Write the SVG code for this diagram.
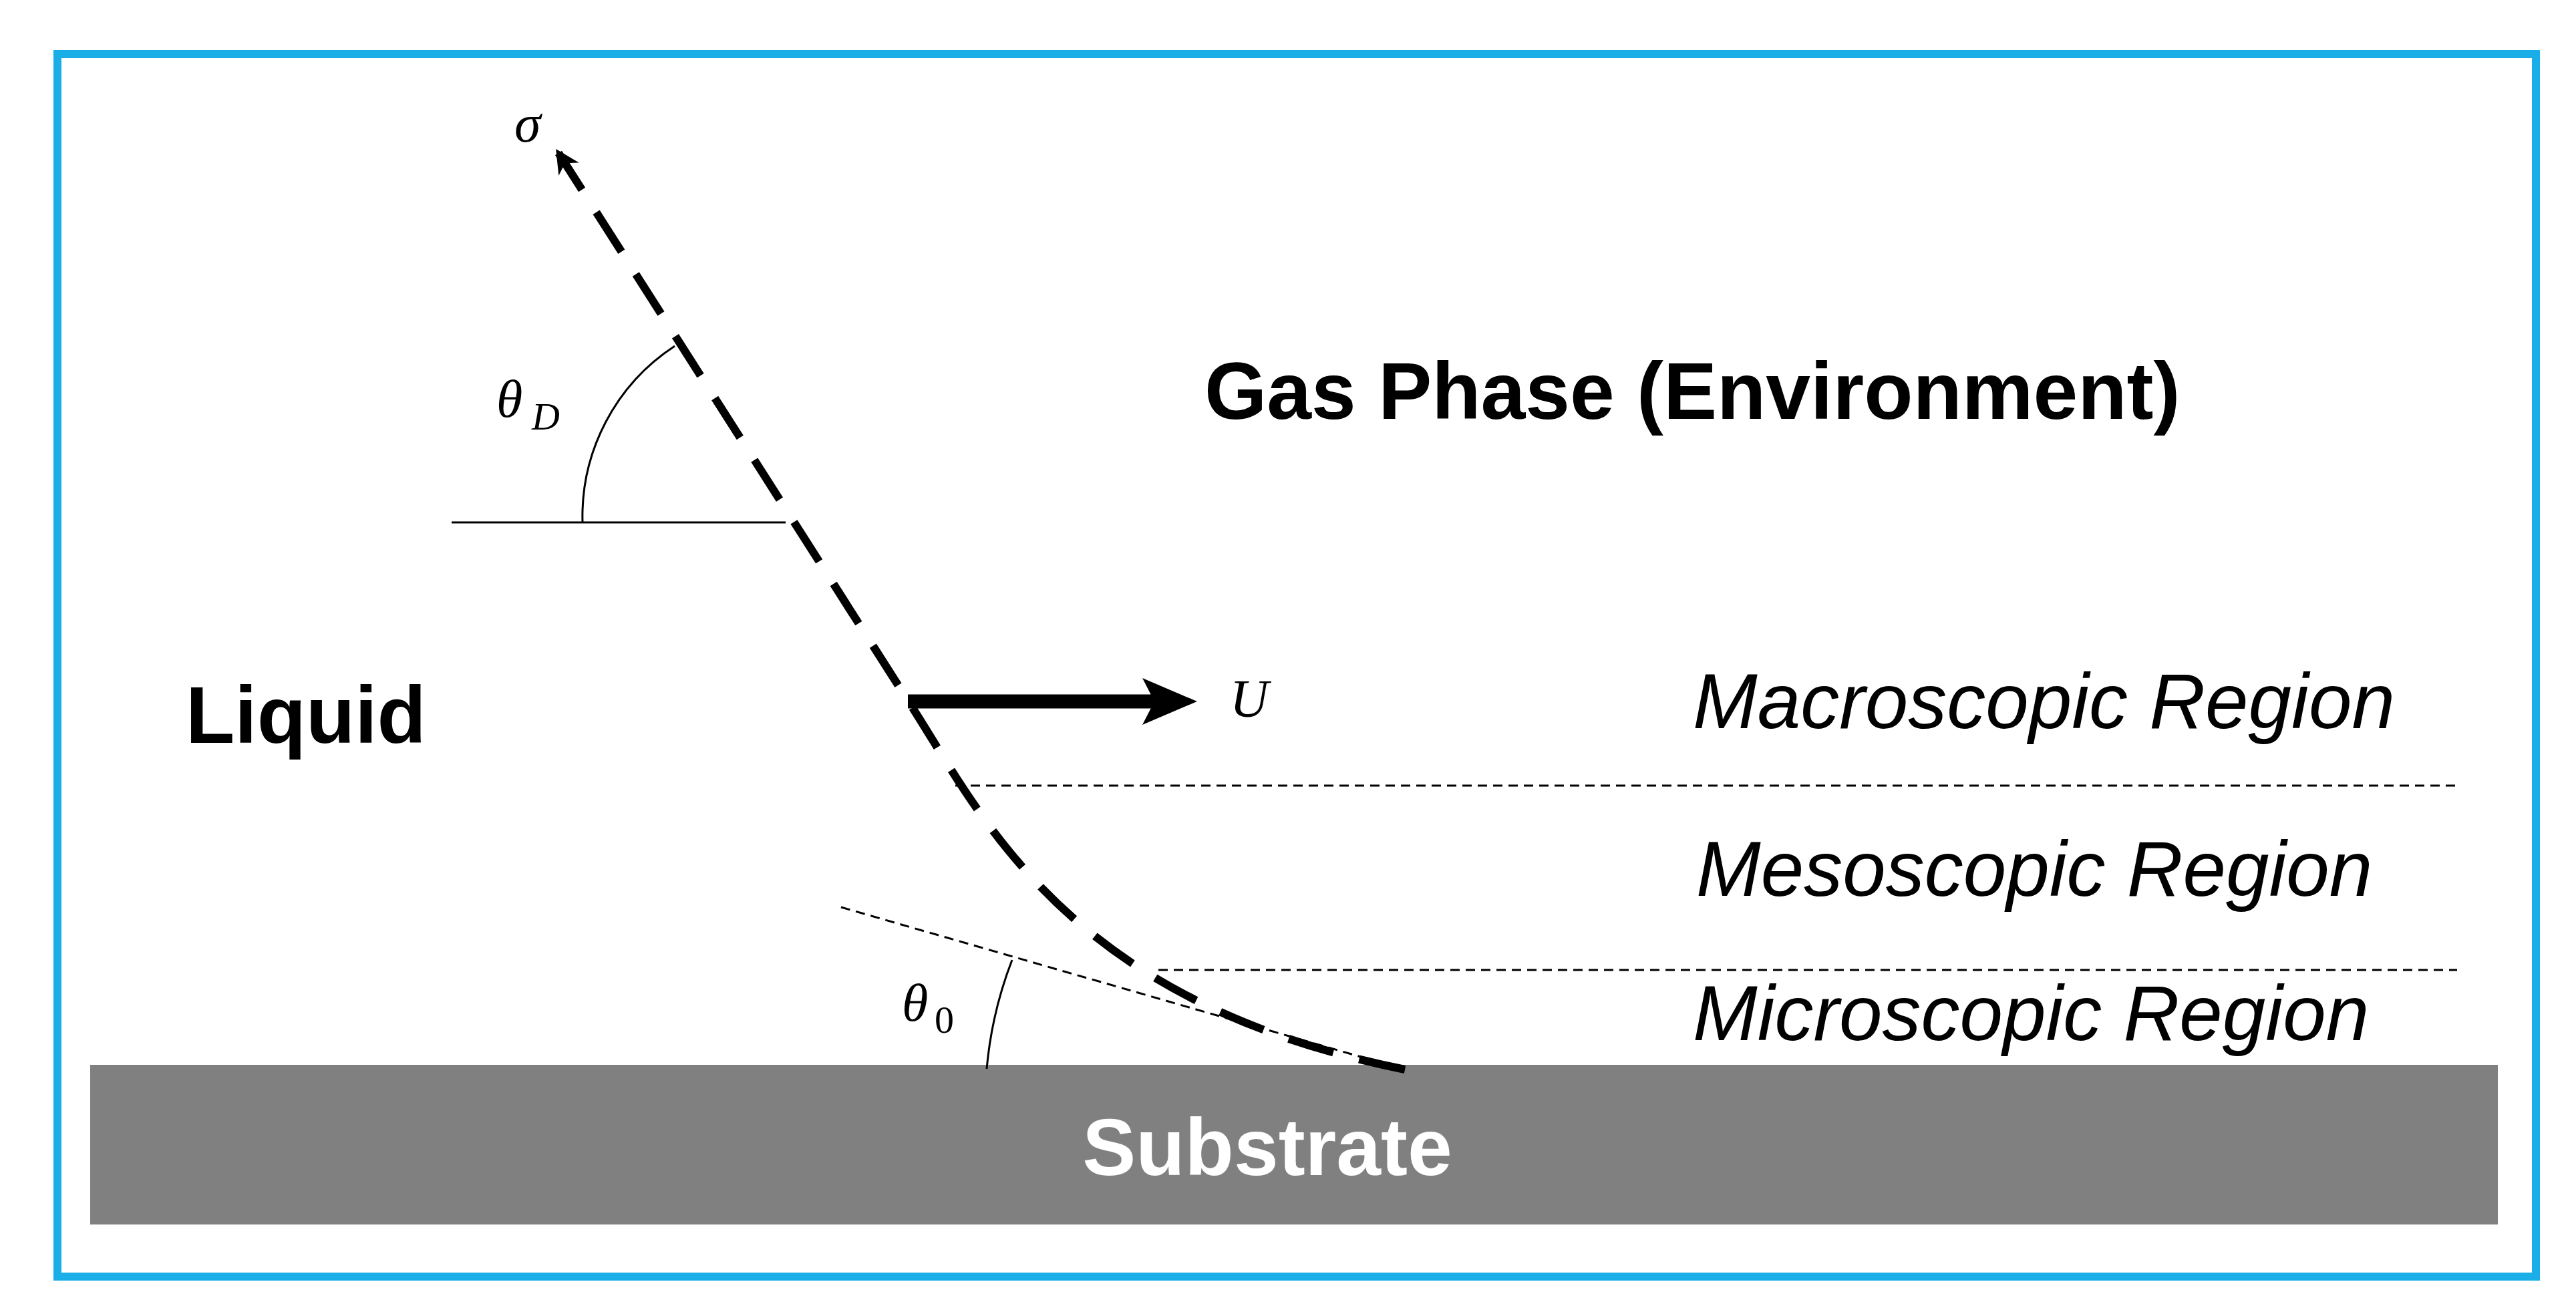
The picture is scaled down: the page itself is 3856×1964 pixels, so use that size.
<svg xmlns="http://www.w3.org/2000/svg" width="3856" height="1964" viewBox="0 0 3856 1964">
<style>
.lbl{font-family:"Liberation Sans",Arial,sans-serif;font-size:120px;font-weight:bold;fill:#000}
.reg{font-family:"Liberation Sans",Arial,sans-serif;font-size:116px;font-style:italic;fill:#000}
.sym{font-family:"Liberation Serif","DejaVu Serif",serif;font-style:italic;fill:#000}
.thin{fill:none;stroke:#000;stroke-width:3}
.tdash{fill:none;stroke:#000;stroke-width:3;stroke-dasharray:14 9}
</style>
<defs>
<marker id="ah" viewBox="0 0 10 10" refX="8" refY="5" markerWidth="3" markerHeight="3" orient="auto-start-reverse" markerUnits="strokeWidth">
<path d="M0,0 L10,5 L0,10 L3,5 Z" fill="#000"/>
</marker>
</defs>
<rect x="86" y="81" width="3710" height="1830" fill="#fff" stroke="#1aaee8" stroke-width="12"/>
<g id="substrate">
<rect x="135" y="1594" width="3604" height="239" fill="#808080"/>
<text class="lbl" x="1897" y="1759" text-anchor="middle" fill="#fff" style="fill:#fff">Substrate</text>
</g>
<g id="gas"><text class="lbl" x="1803" y="627">Gas Phase (Environment)</text></g>
<g id="liquid"><text class="lbl" x="278" y="1112">Liquid</text></g>
<g id="regions">
<text class="reg" x="2534" y="1090">Macroscopic Region</text>
<text class="reg" x="2539" y="1341">Mesoscopic Region</text>
<text class="reg" x="2534" y="1557">Microscopic Region</text>
</g>
<g id="connectors">
<path d="M2103 1601 C1600 1500 1475 1230 1365 1058 L836 229" fill="none" stroke="#000" stroke-width="12" stroke-dasharray="70 40" marker-end="url(#ah)"/>
<line class="tdash" x1="1430" y1="1176" x2="3678" y2="1176"/>
<line class="tdash" x1="1734" y1="1452" x2="3678" y2="1452"/>
<line class="tdash" x1="1259" y1="1358" x2="2103" y2="1601"/>
<line class="thin" x1="676" y1="782" x2="1176" y2="782"/>
<path class="thin" d="M872 782 A305 305 0 0 1 1010 518"/>
<path class="thin" d="M1477 1600 A600 600 0 0 1 1515 1437"/>
<line x1="1359" y1="1050" x2="1730" y2="1050" stroke="#000" stroke-width="21"/>
<path d="M1792 1050 L1710 1015 L1728 1050 L1710 1085 Z" fill="#000"/>
</g>
<g id="symbols">
<text class="sym" x="770" y="212" font-size="80">σ</text>
<text class="sym" x="743" y="624" font-size="80">θ<tspan font-size="58" x="796" y="643">D</tspan></text>
<text class="sym" x="1841" y="1073" font-size="80">U</text>
<text class="sym" x="1350" y="1528" font-size="80">θ<tspan font-size="58" font-style="normal" x="1399" y="1546">0</tspan></text>
</g>
</svg>
